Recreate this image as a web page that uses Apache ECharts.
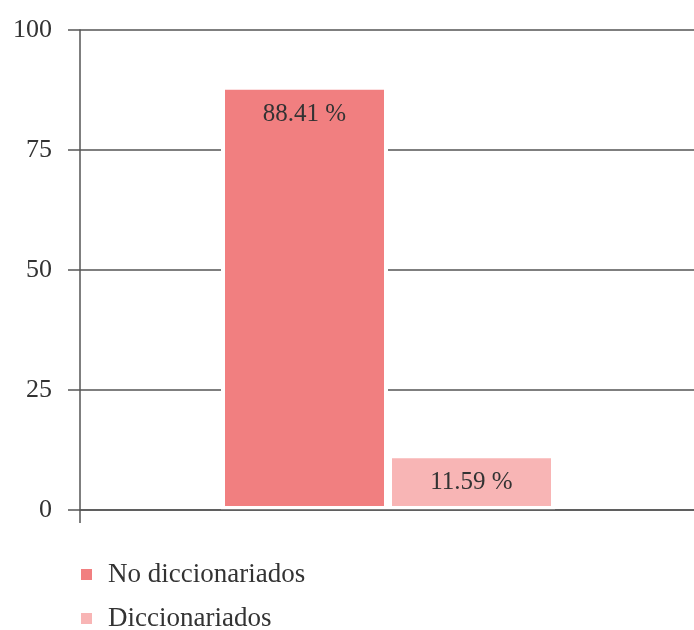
<!DOCTYPE html>
<html>
<head>
<meta charset="utf-8">
<script src="https://cdn.jsdelivr.net/npm/echarts@6/dist/echarts.min.js"></script>
<style>
html,body{margin:0;padding:0;background:#fff;}
#chart{width:694px;height:630px;}
</style>
</head>
<body>
<div id="chart"></div>
<script>
const categories = [''];
const seriesNames = ['No diccionariados', 'Diccionariados'];
const seriesValues = [[88.41], [11.59]];
const seriesColors = ['#F17F80', '#F8B5B5'];
const yTicks = { min: 0, max: 100, interval: 25 };

const FONT = '"Liberation Serif", "Times New Roman", serif';
const AX = '#555555';

const chart = echarts.init(document.getElementById('chart'), null, { renderer: 'canvas' });

const series = seriesNames.map((name, i) => ({
  name: name,
  type: 'bar',
  data: seriesValues[i],
  barWidth: 167,
  barGap: '0%',
  itemStyle: { color: seriesColors[i], borderColor: '#ffffff', borderWidth: 4 },
  label: {
    show: true,
    position: 'insideTop',
    distance: 16,
    formatter: p => p.value.toFixed(2) + ' %',
    fontFamily: FONT,
    fontSize: 25,
    color: '#333333'
  }
}));

chart.setOption({
  animation: false,
  backgroundColor: '#ffffff',
  grid: { left: 80, top: 30, width: 616, bottom: 120, containLabel: false, outerBoundsMode: 'none' },
  xAxis: {
    type: 'category',
    data: categories,
    z: 5,
    axisLine: { show: true, lineStyle: { color: AX, width: 1.5 } },
    axisTick: { show: true, length: 13, lineStyle: { color: AX, width: 1.5 } },
    axisLabel: { show: false },
    splitLine: { show: false }
  },
  yAxis: {
    type: 'value',
    min: yTicks.min,
    max: yTicks.max,
    interval: yTicks.interval,
    axisLine: { show: true, lineStyle: { color: AX, width: 1.5 } },
    axisTick: { show: true, length: 12, lineStyle: { color: AX, width: 1.5 } },
    axisLabel: { fontFamily: FONT, fontSize: 26, color: '#333333', margin: 28 },
    splitLine: { show: true, lineStyle: { color: AX, width: 1.5 } }
  },
  legend: {
    orient: 'vertical',
    left: 79,
    top: 561,
    height: 90,
    padding: 0,
    itemWidth: 13,
    itemHeight: 13,
    itemGap: 17,
    icon: 'rect',
    data: seriesNames,
    textStyle: { fontFamily: FONT, fontSize: 27, color: '#333333', padding: [0, 0, 0, 10] }
  },
  series: series
});
</script>
</body>
</html>
